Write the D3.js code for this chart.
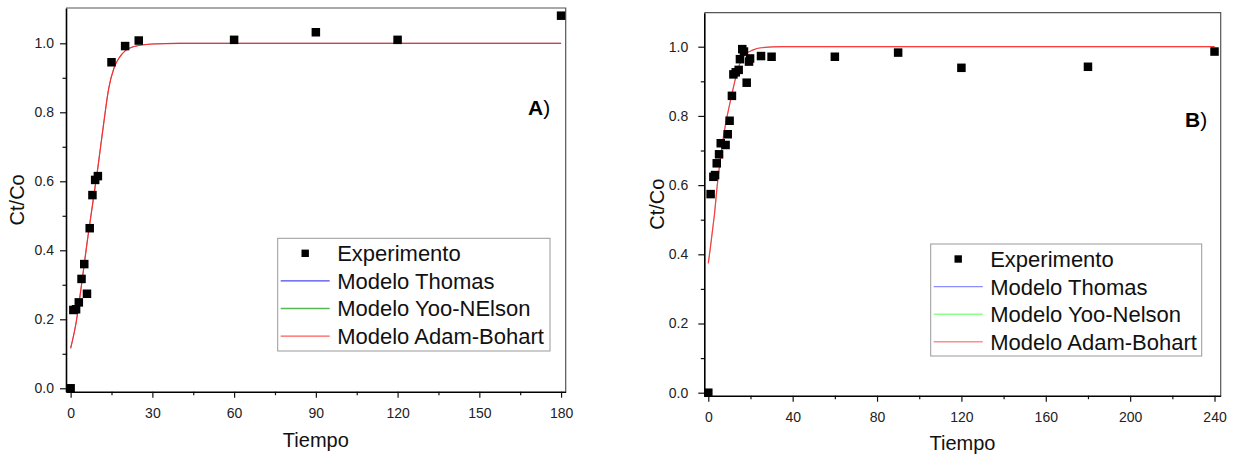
<!DOCTYPE html>
<html>
<head>
<meta charset="utf-8">
<script src="https://cdn.jsdelivr.net/npm/d3@7"></script>
<style>
  body { margin: 0; background: #fff; }
  svg { display: block; font-family: "Liberation Sans", Arial, sans-serif; }
</style>
</head>
<body>
<svg id="chart" width="1233" height="455"></svg>
<script>
// --- panel A data ---
const tiempoA = [0, 1, 2, 3, 4, 5, 6, 7, 8, 9, 10, 15, 20, 25, 60, 90, 120, 180]
const ctcoA = [0, 0.227, 0.229, 0.249, 0.317, 0.360, 0.274, 0.464, 0.560, 0.604, 0.615, 0.945, 0.992, 1.008, 1.010, 1.032, 1.010, 1.080]
// model curve (Thomas / Yoo-Nelson / Adam-Bohart overlap)
const modeloTiempoA = [0, 2, 4, 6, 8, 10, 12, 14, 16, 18, 20, 23, 30, 40, 180]
const modeloA = [0.116, 0.19, 0.30, 0.42, 0.53, 0.64, 0.76, 0.87, 0.93, 0.96, 0.978, 0.99, 0.998, 1.0, 1.0]
const xTicksA = [0, 30, 60, 90, 120, 150, 180]
const xMinorA = [15, 45, 75, 105, 135, 165]

// --- panel B data ---
const tiempoB = [0, 1.1, 2.4, 3.2, 4, 5.1, 5.9, 8.2, 9.2, 10.1, 11.2, 11.9, 13, 14.4, 15, 16.1, 16.9, 18.2, 19.3, 19.8, 25, 30, 60, 90, 120, 180, 240]
const ctcoB = [0, 0.574, 0.624, 0.629, 0.663, 0.689, 0.721, 0.716, 0.747, 0.786, 0.858, 0.920, 0.926, 0.933, 0.964, 0.993, 0.986, 0.896, 0.957, 0.966, 0.973, 0.971, 0.971, 0.983, 0.939, 0.942, 0.986]
const modeloTiempoB = [0, 1, 2, 3, 4, 5, 6, 8, 10, 12, 14, 16, 18, 21, 25, 35, 240]
const modeloB = [0.374, 0.42, 0.47, 0.52, 0.585, 0.64, 0.69, 0.77, 0.83, 0.885, 0.935, 0.965, 0.98, 0.99, 0.997, 1.0, 1.0]
const xTicksB = [0, 40, 80, 120, 160, 200, 240]
const xMinorB = [20, 60, 100, 140, 180, 220]

const yTicks = [0, 0.2, 0.4, 0.6, 0.8, 1.0]
const yMinor = [0.1, 0.3, 0.5, 0.7, 0.9]

const seriesNames = ["Experimento", "Modelo Thomas", "Modelo Yoo-NElson", "Modelo Adam-Bohart"]
const seriesNamesB = ["Experimento", "Modelo Thomas", "Modelo Yoo-Nelson", "Modelo Adam-Bohart"]

const svg = d3.select("#chart")

function drawPanel(p) {
  let x = d3.scaleLinear().domain(p.xDomain).range([p.left, p.right])
  let y = d3.scaleLinear().domain(p.yDomain).range([p.bottom, p.top])

  let g = svg.append("g")

  // frame (top + right)
  g.append("path")
    .attr("d", `M${p.left},${p.top}H${p.right}V${p.bottom}`)
    .attr("fill", "none")
    .attr("stroke", "#555")
    .attr("stroke-width", 1.2)

  // minor ticks
  g.append("g")
    .attr("transform", `translate(0,${p.bottom})`)
    .call(d3.axisBottom(x).tickValues(p.xMinor).tickSize(3.5).tickFormat("").tickSizeOuter(0))
    .call(a => a.select(".domain").remove())
    .call(a => a.selectAll("line").attr("stroke", "#111").attr("stroke-width", 1.2))
  g.append("g")
    .attr("transform", `translate(${p.left},0)`)
    .call(d3.axisLeft(y).tickValues(yMinor).tickSize(3.5).tickFormat("").tickSizeOuter(0))
    .call(a => a.select(".domain").remove())
    .call(a => a.selectAll("line").attr("stroke", "#111").attr("stroke-width", 1.2))

  // major axes
  let xa = g.append("g")
    .attr("transform", `translate(0,${p.bottom})`)
    .call(d3.axisBottom(x).tickValues(p.xTicks).tickSize(6).tickPadding(p.xPad).tickSizeOuter(0).tickFormat(d3.format("d")))
  let ya = g.append("g")
    .attr("transform", `translate(${p.left},0)`)
    .call(d3.axisLeft(y).tickValues(yTicks).tickSize(6).tickPadding(p.yPad).tickSizeOuter(0).tickFormat(d3.format(".1f")))

  ;[xa, ya].forEach(a => {
    a.select(".domain").attr("stroke", "#000").attr("stroke-width", 1.6)
    a.selectAll("line").attr("stroke", "#111").attr("stroke-width", 1.2)
    a.selectAll("text").attr("font-size", 14).attr("fill", "#222")
      .attr("font-family", "'Liberation Sans', Arial, sans-serif")
  })

  // axis titles
  g.append("text")
    .attr("x", (p.left + p.right) / 2)
    .attr("y", p.xTitleY)
    .attr("text-anchor", "middle")
    .attr("font-size", 20)
    .attr("fill", "#111")
    .text("Tiempo")
  g.append("text")
    .attr("transform", `translate(${p.yTitleX},${(p.top + p.bottom) / 2}) rotate(-90)`)
    .attr("text-anchor", "middle")
    .attr("font-size", 20)
    .attr("fill", "#111")
    .text("Ct/Co")

  // model curves (they coincide; thin blue/green hidden under red)
  let line = d3.line()
    .x(d => x(d[0]))
    .y(d => y(d[1]))
    .curve(d3.curveMonotoneX)
  let pts = p.modelT.map((t, i) => [t, p.modelV[i]])
  p.colors.forEach((c, i) => {
    g.append("path")
      .datum(pts)
      .attr("d", line)
      .attr("fill", "none")
      .attr("stroke", c)
      .attr("stroke-width", i < 2 ? 0.4 : 1.2)
  })

  // experiment points
  let s = 8.5
  g.selectAll("rect.pt")
    .data(p.t.map((t, i) => [t, p.v[i]]))
    .enter()
    .append("rect")
    .attr("class", "pt")
    .attr("x", d => x(d[0]) - s / 2)
    .attr("y", d => y(d[1]) - s / 2)
    .attr("width", s)
    .attr("height", s)
    .attr("fill", "#000")

  // panel tag
  let tag = g.append("text")
    .attr("x", p.tagX)
    .attr("y", p.tagY)
    .attr("font-size", 21)
    .attr("fill", "#000")
  tag.append("tspan").attr("font-weight", "bold").text(p.tag)
  tag.append("tspan").text(")")

  // legend
  let lg = g.append("g").attr("transform", `translate(${p.legX},${p.legY})`)
  lg.append("rect")
    .attr("width", p.legW)
    .attr("height", p.legH)
    .attr("fill", "#fff")
    .attr("stroke", "#999")
    .attr("stroke-width", 1)
  p.names.forEach((name, i) => {
    let cy = 15 + i * 27.6
    if (i === 0) {
      lg.append("rect")
        .attr("x", 27.5 - 3.7).attr("y", cy - 3.7)
        .attr("width", 7.4).attr("height", 7.4)
        .attr("fill", "#000")
    } else {
      lg.append("line")
        .attr("x1", 3).attr("x2", 52)
        .attr("y1", cy).attr("y2", cy)
        .attr("stroke", p.legColors[i - 1])
        .attr("stroke-width", 1.4)
    }
    lg.append("text")
      .attr("x", 59.5)
      .attr("y", cy + 8)
      .attr("font-size", 22)
      .attr("fill", "#111")
      .text(name)
  })
}

drawPanel({
  left: 66, right: 565.7, top: 8, bottom: 391.7,
  xDomain: [-1.7, 181.7], yDomain: [-0.0099, 1.1023],
  xTicks: xTicksA, xMinor: xMinorA, xPad: 10, yPad: 6,
  xTitleY: 446.5, yTitleX: 23.5,
  t: tiempoA, v: ctcoA, modelT: modeloTiempoA, modelV: modeloA,
  colors: ["#3a3aff", "#3cb043", "#ff2a2a"],
  legColors: ["#4a4af0", "#55b855", "#ff5a5a"],
  tag: "A", tagX: 528, tagY: 115,
  legX: 277.7, legY: 238.3, legW: 272.3, legH: 112.7,
  names: seriesNames
})

drawPanel({
  left: 704.3, right: 1220.7, top: 12.7, bottom: 395.7,
  xDomain: [-1.897, 242.93], yDomain: [-0.00867, 1.0983],
  xTicks: xTicksB, xMinor: xMinorB, xPad: 10, yPad: 10,
  xTitleY: 450, yTitleX: 663.5,
  t: tiempoB, v: ctcoB, modelT: modeloTiempoB, modelV: modeloB,
  colors: ["#8080ff", "#80ff80", "#ff3a3a"],
  legColors: ["#8c8cff", "#8cff8c", "#ff8c8c"],
  tag: "B", tagX: 1185, tagY: 126.7,
  legX: 930.7, legY: 244, legW: 271, legH: 112,
  names: seriesNamesB
})
</script>
</body>
</html>
